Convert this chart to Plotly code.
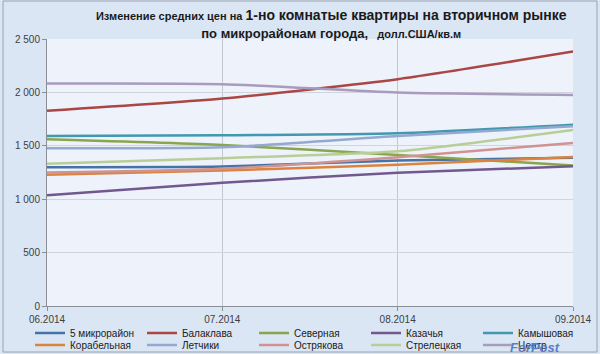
import plotly.graph_objects as go

months = ["06.2014", "07.2014", "08.2014", "09.2014"]
names = ["5 микрорайон", "Балаклава", "Северная", "Казачья", "Камышовая",
         "Корабельная", "Летчики", "Острякова", "Стрелецкая", "Центр"]
colors = ["#4572A7", "#AA4643", "#89A54E", "#71588F", "#4198AF",
          "#DB843D", "#93A9CF", "#D19392", "#B9CD96", "#A99BBD"]

v_5mkr = [1300, 1306, 1362, 1388]
v_balaklava = [1828, 1943, 2124, 2382]
v_severnaya = [1561, 1508, 1415, 1315]
v_kazachya = [1038, 1154, 1247, 1309]
v_kamyshovaya = [1592, 1598, 1617, 1698]
v_korabelnaya = [1228, 1269, 1322, 1395]
v_letchiki = [1477, 1486, 1592, 1684]
v_ostryakova = [1250, 1285, 1393, 1527]
v_streletskaya = [1331, 1384, 1449, 1648]
v_centr = [2083, 2077, 1999, 1975]

series = [v_5mkr, v_balaklava, v_severnaya, v_kazachya, v_kamyshovaya,
          v_korabelnaya, v_letchiki, v_ostryakova, v_streletskaya, v_centr]

W, H = 600, 354
PL, PR, PT, PB = 47, 573, 39, 306
PW, PH = PR - PL, PB - PT
fig = go.Figure()
xs = list(range(len(months)))
for i, (name, col, vals) in enumerate(zip(names, colors, series)):
    fig.add_trace(go.Scatter(x=xs, y=vals, name=name, mode="lines",
                             legend="legend" if i < 5 else "legend2",
                             line=dict(color=col, width=2.5, shape="spline", smoothing=0.6)))

title = ("<span style='font-size:11px'>Изменение средних цен на </span>"
         "<span style='font-size:14px'>1-но комнатые квартиры на вторичном рынке</span><br>"
         "<span style='font-size:13px'>по микрорайонам города,</span>"
         "<span style='font-size:11px'>   долл.США/кв.м</span>")

leg_common = dict(orientation="h", xref="paper", yref="paper",
                  x=(30 - PL) / PW, xanchor="left", yanchor="middle",
                  entrywidth=67, itemwidth=30, font=dict(size=10, color="#202020"),
                  bgcolor="rgba(0,0,0,0)", borderwidth=0)

fig.update_layout(
    width=W, height=H,
    margin=dict(l=PL, r=W - PR, t=PT, b=H - PB, autoexpand=False),
    paper_bgcolor="#dbe6f5",
    plot_bgcolor="#edf2fb",
    separators=", ",
    font=dict(family="Liberation Sans, Arial", size=10, color="#404040"),
    title=dict(text="<b>" + title + "</b>", x=0.552, xanchor="center",
               y=0.943, yanchor="top",
               font=dict(family="Liberation Sans, Arial", color="#1a1a1a")),
    showlegend=True,
    legend=dict(**leg_common, y=(PB - 333) / PH),
    legend2=dict(**leg_common, y=(PB - 345) / PH),
    shapes=[dict(type="rect", xref="paper", yref="paper",
                 x0=(3 - PL) / PW, x1=(597 - PL) / PW,
                 y0=(PB - 352) / PH, y1=(PB - 1) / PH,
                 line=dict(color="#98a2ae", width=1), fillcolor="rgba(0,0,0,0)", layer="below")],
    annotations=[dict(text="<i><b>ForPost</b></i>", xref="paper", yref="paper",
                      x=(562 - PL) / PW, y=(PB - 357) / PH, xanchor="right", yanchor="bottom",
                      showarrow=False,
                      font=dict(family="Liberation Sans", size=13, color="#5a7fc8"))],
)
fig.update_xaxes(range=[0, 3], tickvals=xs, ticktext=months, showgrid=True,
                 gridcolor="#c3c8d0", gridwidth=1, zeroline=False,
                 showline=True, linecolor="#8a8f96", ticks="outside", ticklen=4,
                 tickcolor="#8a8f96", tickfont=dict(size=10, color="#404040"))
fig.update_yaxes(range=[0, 2500], dtick=500, tickformat=",d", showgrid=True,
                 gridcolor="#d0d4dc", gridwidth=1, zeroline=False,
                 showline=True, linecolor="#8a8f96", ticks="outside", ticklen=4,
                 tickcolor="#8a8f96", tickfont=dict(size=10, color="#404040"))

fig.write_html("out.html")
